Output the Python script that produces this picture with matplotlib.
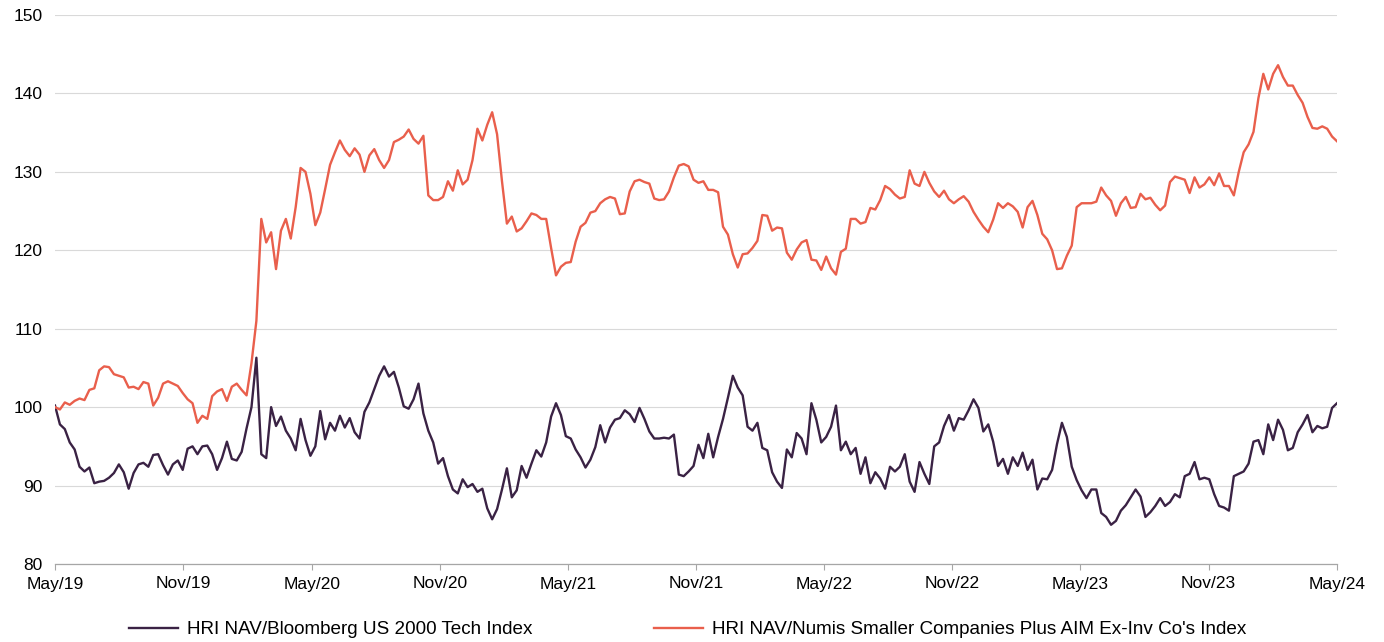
import matplotlib
matplotlib.use("Agg")
import matplotlib.pyplot as plt
import matplotlib.dates as mdates
import pandas as pd

plt.rcParams['font.family'] = ['Liberation Sans', 'DejaVu Sans']

# Weekly observations, 31 May 2019 -> 31 May 2024
dates = pd.date_range('2019-05-31', '2024-05-31', freq='7D')

numis = [
    100.0, 99.7, 100.6, 100.3, 100.8, 101.1, 100.9, 102.2, 102.4, 104.7,
    105.2, 105.1, 104.2, 104.0, 103.8, 102.5, 102.6, 102.3, 103.2, 103.0,
    100.2, 101.2, 103.0, 103.3, 103.0, 102.7, 101.8, 101.0, 100.5, 98.0,
    98.9, 98.5, 101.4, 102.0, 102.3, 100.8, 102.6, 103.0, 102.2, 101.5,
    105.6, 111.0, 124.0, 121.0, 122.3, 117.6, 122.5, 124.0, 121.5, 125.5,
    130.5, 130.0, 127.2, 123.2, 124.8, 127.8, 130.9, 132.5, 134.0, 132.8,
    132.0, 133.0, 132.2, 130.0, 132.1, 132.9, 131.5, 130.5, 131.5, 133.8,
    134.1, 134.5, 135.4, 134.2, 133.6, 134.6, 127.0, 126.4, 126.4, 126.8,
    128.8, 127.6, 130.2, 128.4, 129.0, 131.5, 135.5, 134.0, 136.0, 137.6,
    134.8, 128.8, 123.4, 124.3, 122.4, 122.8, 123.7, 124.7, 124.5, 124.0,
    124.0, 120.3, 116.8, 117.9, 118.4, 118.5, 121.1, 123.0, 123.5, 124.8,
    125.0, 126.0, 126.5, 126.8, 126.6, 124.6, 124.7, 127.5, 128.8, 129.0,
    128.7, 128.5, 126.6, 126.4, 126.5, 127.5, 129.3, 130.8, 131.0, 130.7,
    129.0, 128.6, 128.8, 127.7, 127.7, 127.4, 123.0, 122.0, 119.5, 117.8,
    119.5, 119.6, 120.3, 121.2, 124.5, 124.4, 122.5, 122.9, 122.8, 119.7,
    118.8, 120.1, 121.0, 121.3, 118.8, 118.7, 117.5, 119.2, 117.7, 116.9,
    119.8, 120.2, 124.0, 124.0, 123.4, 123.6, 125.4, 125.2, 126.4, 128.2,
    127.8, 127.1, 126.6, 126.8, 130.2, 128.5, 128.2, 130.0, 128.6, 127.5,
    126.8, 127.6, 126.5, 126.0, 126.5, 126.9, 126.2, 124.9, 123.9, 123.0,
    122.3, 123.9, 126.0, 125.4, 126.0, 125.6, 124.9, 122.9, 125.5, 126.3,
    124.5, 122.1, 121.4, 120.0, 117.6, 117.7, 119.3, 120.6, 125.5, 126.0,
    126.0, 126.0, 126.2, 128.0, 127.0, 126.3, 124.4, 126.0, 126.8, 125.4,
    125.5, 127.2, 126.5, 126.7, 125.8, 125.1, 125.7, 128.7, 129.4, 129.2,
    129.0, 127.3, 129.3, 128.0, 128.4, 129.3, 128.3, 129.8, 128.2, 128.2,
    127.0, 130.0, 132.5, 133.5, 135.1, 139.4, 142.5, 140.5, 142.5, 143.6,
    142.1, 141.0, 141.0, 139.8, 138.8, 137.0, 135.6, 135.5, 135.8, 135.5,
    134.5, 133.9,
]

bloomberg = [
    100.2, 97.8, 97.2, 95.5, 94.6, 92.4, 91.8, 92.3, 90.3, 90.5,
    90.6, 91.0, 91.6, 92.7, 91.7, 89.6, 91.6, 92.7, 92.9, 92.4,
    93.9, 94.0, 92.6, 91.4, 92.7, 93.2, 92.0, 94.7, 95.0, 94.0,
    95.0, 95.1, 94.0, 92.0, 93.5, 95.6, 93.4, 93.2, 94.3, 97.3,
    100.0, 106.3, 94.0, 93.5, 100.0, 97.6, 98.8, 97.0, 96.0, 94.5,
    98.5, 95.8, 93.8, 95.0, 99.5, 95.9, 98.0, 97.0, 98.9, 97.4,
    98.6, 96.8, 96.0, 99.4, 100.6, 102.3, 104.0, 105.2, 103.9, 104.5,
    102.5, 100.1, 99.8, 101.0, 103.0, 99.2, 97.0, 95.5, 92.8, 93.5,
    91.2, 89.5, 89.0, 90.8, 89.8, 90.2, 89.2, 89.6, 87.1, 85.7,
    87.0, 89.5, 92.2, 88.5, 89.4, 92.5, 91.0, 92.8, 94.5, 93.7,
    95.5, 98.8, 100.5, 99.0, 96.3, 96.0, 94.6, 93.6, 92.3, 93.3,
    94.9, 97.7, 95.5, 97.4, 98.4, 98.6, 99.6, 99.1, 98.1, 99.9,
    98.5, 96.9, 96.0, 96.0, 96.1, 96.0, 96.5, 91.4, 91.2, 91.8,
    92.5, 95.2, 93.5, 96.6, 93.6, 96.2, 98.5, 101.2, 104.0, 102.5,
    101.5, 97.5, 97.0, 98.0, 94.8, 94.5, 91.7, 90.5, 89.7, 94.6,
    93.6, 96.7, 96.0, 94.0, 100.5, 98.4, 95.5, 96.2, 97.5, 100.2,
    94.5, 95.6, 94.0, 94.8, 91.5, 93.6, 90.3, 91.7, 90.9, 89.6,
    92.4, 91.8, 92.4, 94.0, 90.5, 89.2, 93.0, 91.5, 90.2, 95.0,
    95.5, 97.6, 99.0, 97.0, 98.6, 98.4, 99.6, 101.0, 99.9, 96.9,
    97.8, 95.6, 92.5, 93.4, 91.5, 93.6, 92.5, 94.2, 92.0, 93.3,
    89.5, 90.9, 90.8, 92.0, 95.3, 98.0, 96.2, 92.4, 90.7, 89.4,
    88.4, 89.5, 89.5, 86.5, 86.0, 85.0, 85.5, 86.8, 87.5, 88.5,
    89.5, 88.6, 86.0, 86.6, 87.4, 88.4, 87.4, 87.9, 88.9, 88.5,
    91.2, 91.5, 93.0, 90.8, 91.0, 90.8, 88.9, 87.4, 87.2, 86.8,
    91.2, 91.5, 91.8, 92.8, 95.6, 95.8, 94.0, 97.8, 95.8, 98.4,
    97.1, 94.5, 94.8, 96.8, 97.8, 99.0, 96.8, 97.6, 97.3, 97.5,
    99.9, 100.5,
]

series_labels = ["HRI NAV/Bloomberg US 2000 Tech Index",
                 "HRI NAV/Numis Smaller Companies Plus AIM Ex-Inv Co's Index"]
y_ticks = [80, 90, 100, 110, 120, 130, 140, 150]
x_ticks = pd.date_range('2019-05-31', '2024-05-31', freq='6ME')

purple = '#3a2244'
orange = '#e95f4c'

fig = plt.figure(figsize=(13.84, 6.42), dpi=100)
ax = fig.add_axes([55/1384, 78/642, 1282/1384, 549/642])

ax.plot(dates, bloomberg, color=purple, lw=1.7, label=series_labels[0], zorder=3)
ax.plot(dates, numis, color=orange, lw=1.7, label=series_labels[1], zorder=3)

ax.set_ylim(80, 150)
ax.set_yticks(y_ticks)
ax.set_xlim(dates[0], dates[-1])
ax.set_xticks(x_ticks)
ax.xaxis.set_major_formatter(mdates.DateFormatter('%b/%y'))

ax.grid(axis='y', color='#d9d9d9', lw=0.8, zorder=0)
for s in ['top', 'right', 'left']:
    ax.spines[s].set_visible(False)
ax.spines['bottom'].set_color('#a6a6a6')
ax.spines['bottom'].set_linewidth(0.9)
ax.tick_params(axis='y', length=0, labelsize=12.5, pad=9, labelcolor='#000000')
ax.tick_params(axis='x', length=4, color='#a6a6a6', labelsize=12.5, pad=5)

fig.legend(loc='lower center', bbox_to_anchor=(0.497, -0.021), ncol=2, frameon=False,
           fontsize=13.6, handlelength=2.6, columnspacing=6.4, handletextpad=0.5)

fig.savefig('out.png', dpi=100)
